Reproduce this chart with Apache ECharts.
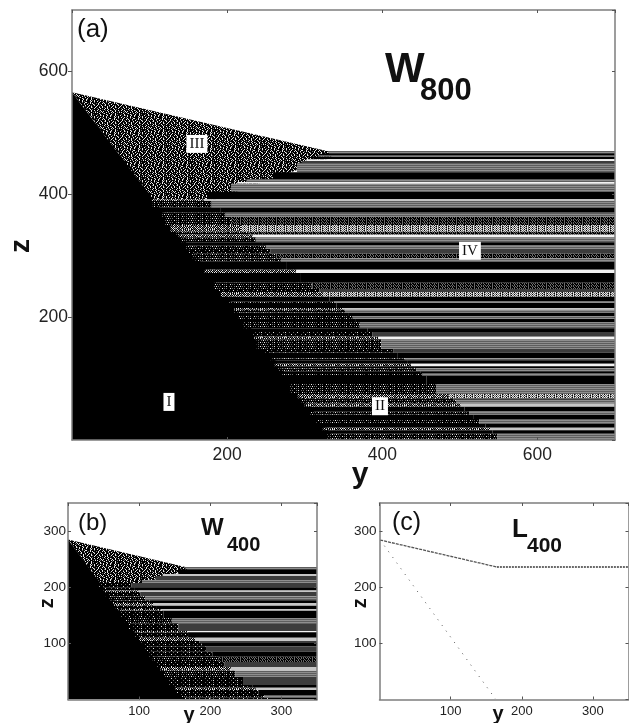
<!DOCTYPE html>
<html><head><meta charset="utf-8">
<style>html,body{margin:0;padding:0;background:#fff}#c{width:629px;height:723px}</style>
<script src="https://cdn.jsdelivr.net/npm/echarts@6/dist/echarts.min.js"></script>
</head><body><div id="c"></div>
<script>
// Panel (a): stripe rows. top z, tone, y-value start of speckle, start of clean stripes
const bandTopA=[470.5,467,464,461,457,454,451,436,425,420,417,404,392,389,378,370,363,350,339,334,330,322,317,311,303,296,290,277,272,256,246,241,233,226,223,215,212,207,202,197,192,182,176,168,164,148,142,133,130,124,120,117,112,109,104,91,75,68,65,59,54,47,41,34,26,20,16,10];
const bandToneA=['g','k','g','k','w','d','g','k','g','w','g','k','l','g','k','g','s','t','s','w','g','k','g','d','s','g','k','w','k','s','d','t','k','g','k','l','g','k','g','k','g','k','d','w','g','d','k','g','k','w','k','g','k','g','k','g','t','d','g','l','k','g','k','g','k','l','k','g'];
const speckleStartA=[330,323,317,311,302,296,290,259,225,213,205,174,103,104,111,116,120,127,134,137,139,144,147,151,155,159,163,171,174,183,189,192,197,201,203,208,209,212,215,218,221,227,231,235,238,247,251,256,258,261,264,266,269,270,273,281,291,295,296,300,303,307,311,315,320,323,326,329];
const stripeStartA=[330,323,317,311,302,296,290,259,225,213,205,174,170,180,191,198,205,218,228,233,237,245,250,256,263,270,276,289,294,309,319,324,332,338,341,349,352,357,362,366,371,381,387,395,399,414,420,429,432,437,441,444,449,452,457,470,485,492,495,501,506,512,518,525,533,539,542,548];
const regionOneA=[[0,566],[0,0],[340,0]];
const regionThreeA=[[0,566],[330,470],[335,460],[185,392],[103,392]];
// Panel (b)
const bandTopB=[236,232,223.5,220,213,207.5,200,194,191.5,184,177,172,167,161,158,145,136,122,120,110,104,100.6,95,85,76,67,58,51,40,26,21,17,8,3];
const bandToneB=['g','k','l','d','g','d','k','l','d','g','k','l','k','l','k','g','d','w','k','l','d','k','d','k','s','d','l','g','d','k','l','k','g','k'];
const speckleStartB=[165,155,133,123,104,44,48,52,53,57,61,64,67,71,72,80,85,93,94,100,103,105,108,114,119,125,130,134,140,148,151,153,158,161];
const stripeStartB=[165,155,133,123,104,89,94,99,102,109,115,120,125,131,134,146,155,168,170,179,185,188,194,203,212,220,229,235,246,259,264,268,276,281];
const regionOneB=[[0,285],[0,0],[166,0]];
const regionThreeB=[[0,285],[165,236],[168,230],[105,207],[44,207]];
// Panel (c)
const slopeLineC=[[1,284],[165,236]];
const plateauLineC=[[165,236],[350,236]];
const lowerLineC=[[1,284],[163,1]];
// Tick labels
const ticksA=[200,400,600];
const ticksB=[100,200,300];
// Region labels in panel (a): y, z, text
const regionLabels=[[161,482,'III'],[513,308,'IV'],[397,55,'II'],[125,62,'I']];

const toneFill={k:'#000',d:'#3c3c3c',l:'#c6c6c6',w:'#f2f2f2'};
const TILE_III=[
"#.##+#.###.#+##.#.###+#.",
"###.###+.####.##+##.####",
"#+##.#####.+###.###.#+##",
".###.+#.###.##.+###.####",
"##+####.##.###.###.#+#.#",
"#.##.#+###.#+#####+.##.#",
"###.###.##+##..###.###+#",
"+#.###.#.###.###+#.#.###",
"##.#+####.##+##.#####.+#",
"#.###.##+.###.###.#+##.#",
".##+##.####.#+##.##.####",
"###.##.#+##.###.###.+##.",
"#+##.####.#.##+##.####.#",
"##.###+#.###.#####.#+###",
"#.##.####+#.##.+###.##.#",
"###+#.#.####.###.##.###+"];
const TILE_SPARSE=["#+###+###.#####+###+#.##","########################","###.###+#####+###.###+##","########################"];
const TILE_MEDIUM=["#+#+##.#+#+###.#+#+##+#.","########################",".#+#+###+#.##+#+##+#.#+#","########################"];
const TILE_DENSE=[".#+#.#.+.#+#.#+#.#+#.#.#","#+#+#.#+#.#+#+.#+#.#.+.#",".#.#+#.#+#.#+#.#.#+#.#+#","#+#.#.#+#.#+#.#+#.#.#+#."];
const TILE_GRAIN_DARK=["#+#+##+#+#+##+#+#+","+#+#+#+##+#+#+#+##","##+###+###+#+###+#"];
const TILE_GRAIN_LIGHT=[".+.+#.+.+.#.+.+.#+","+.#.+.+#.+.+.+#.+."];
const TILE_STRIPE_GRAY=["=","-"];

function tile(rows){
  const w=rows[0].length,h=rows.length,cv=document.createElement('canvas');
  cv.width=w;cv.height=h;const g=cv.getContext('2d');
  const col={'#':'#000','+':'#6a6a6a','.':'#e8e8e8','=':'#8e8e8e','-':'#5e5e5e'};
  rows.forEach((r,j)=>[...r].forEach((c,i)=>{g.fillStyle=col[c];g.fillRect(i,j,1,1);}));
  return {image:cv,repeat:'repeat'};
}
const P={iii:tile(TILE_III),sparse:tile(TILE_SPARSE),medium:tile(TILE_MEDIUM),dense:tile(TILE_DENSE),gd:tile(TILE_GRAIN_DARK),gl:tile(TILE_GRAIN_LIGHT),gs:tile(TILE_STRIPE_GRAY)};
const stripeFill=t=>t==='s'?P.gd:t==='t'?P.gl:t==='g'?P.gs:toneFill[t];
const speckleFill=(t,blackFill)=>t==='k'?blackFill:t==='d'?P.sparse:(t==='g'||t==='s')?P.medium:P.dense;

function polySeries(points,fill,ax,z){
  return {type:'custom',xAxisIndex:ax,yAxisIndex:ax,silent:true,z:z,clip:true,data:[0],
    encode:{x:[],y:[]},
    renderItem:(p,api)=>({type:'polygon',shape:{points:points.map(q=>api.coord(q))},style:{fill:fill}})};
}
function bandSeries(tops,tones,s1,s2,xMax,ax,blackFill){
  const data=tops.map((t,i)=>[t,i+1<tops.length?tops[i+1]:0,tones[i],s1[i],s2[i]]);
  return {type:'custom',xAxisIndex:ax,yAxisIndex:ax,silent:true,z:3,clip:true,data:data,
    dimensions:['top','bottom','tone','speckle','stripe'],encode:{x:3,y:0},
    renderItem:(p,api)=>{
      const d=data[p.dataIndex];
      const a=api.coord([d[3],d[0]]),b=api.coord([d[4],d[1]]),c=api.coord([xMax,d[1]]);
      const kids=[];
      if(d[4]>d[3]) kids.push({type:'rect',shape:{x:a[0],y:a[1],width:b[0]-a[0],height:b[1]-a[1]},style:{fill:speckleFill(d[2],blackFill)}});
      kids.push({type:'rect',shape:{x:b[0],y:a[1],width:c[0]-b[0],height:b[1]-a[1]},style:{fill:stripeFill(d[2])}});
      return {type:'group',children:kids};
    }};
}
const lineS=(data,ax,color,width,dash)=>({type:'line',xAxisIndex:ax,yAxisIndex:ax,data:data,symbol:'none',silent:true,z:3,
  lineStyle:{color:color,width:width,type:dash}});

const BOX='#7d7d7d',FONT='"Liberation Sans",Arial,sans-serif';
function xPair(max,ticks,interval,fs,margin,name,nameFs,nameGap,pad,gi){
  const common={type:'value',gridIndex:gi,min:0,max:max,interval:interval,z:6,splitLine:{show:false},
    axisLine:{show:true,onZero:false,lineStyle:{color:BOX,width:1.5}},
    axisTick:{show:true,inside:true,length:3,lineStyle:{color:'#555',width:1}}};
  return [Object.assign({},common,{position:'bottom',
    axisLabel:{show:true,fontFamily:FONT,fontSize:fs,color:'#222',margin:margin,showMinLabel:false,showMaxLabel:false,hideOverlap:false,
      formatter:v=>ticks.includes(v)?String(v):''},
    name:name,nameLocation:'middle',nameGap:nameGap,nameMoveOverlap:false,
    nameTextStyle:{fontFamily:FONT,fontWeight:'bold',fontSize:nameFs,color:'#111',padding:pad}}),
    Object.assign({},common,{position:'top',axisLabel:{show:false}})];
}
function yPair(max,ticks,interval,fs,margin,tickOut,name,nameFs,nameGap,pad,gi){
  const common={type:'value',gridIndex:gi,min:0,max:max,interval:interval,z:6,splitLine:{show:false},
    axisLine:{show:true,onZero:false,lineStyle:{color:BOX,width:1.5}},
    axisTick:{show:true,inside:true,length:3,lineStyle:{color:'#555',width:1}}};
  return [Object.assign({},common,{position:'left',
    axisTick:{show:true,inside:!tickOut,length:tickOut?4:3,lineStyle:{color:'#555',width:1}},
    axisLabel:{show:true,fontFamily:FONT,fontSize:fs,color:'#222',margin:margin,showMinLabel:false,showMaxLabel:false,
      formatter:v=>ticks.includes(v)?String(v):''},
    name:name,nameLocation:'middle',nameGap:nameGap,nameMoveOverlap:false,
    nameTextStyle:{fontFamily:FONT,fontWeight:'bold',fontSize:nameFs,color:'#111',padding:pad}}),
    Object.assign({},common,{position:'right',axisLabel:{show:false}})];
}
const txt=(x,y,text,size,weight)=>({type:'text',x:x,y:y,silent:true,z:10,
  style:{text:text,fontFamily:FONT,fontSize:size,fontWeight:weight||'normal',fill:'#111',verticalAlign:'middle'}});

const gridCommon={outerBoundsMode:'none',containLabel:false};
const option={
  animation:false,backgroundColor:'#fff',
  grid:[Object.assign({left:72,top:10,width:543,height:430},gridCommon),
        Object.assign({left:68,top:503,width:249,height:196.5},gridCommon),
        Object.assign({left:379.5,top:503,width:249,height:196.5},gridCommon)],
  xAxis:[...xPair(700,ticksA,200,17.5,6,'y',30,20,[0,0,0,33],0),
         ...xPair(350,ticksB,100,13,5,'y',20,6,[0,7,0,0],1),
         ...xPair(350,ticksB,100,13,5,'y',20,5,[0,12,0,0],2)],
  yAxis:[...yPair(700,ticksA,200,17.5,4,true,'z',28,37,[0,42,0,0],0),
         ...yPair(350,ticksB,100,13.5,2,false,'z',20,11,[0,4,0,0],1),
         ...yPair(350,ticksB,100,13.5,3,false,'z',20,9,[0,4,0,0],2)],
  series:[
    polySeries(regionThreeA,P.iii,0,1),polySeries(regionOneA,'#000',0,2),
    bandSeries(bandTopA,bandToneA,speckleStartA,stripeStartA,700,0,'#000'),
    polySeries(regionThreeB,P.iii,2,1),polySeries(regionOneB,'#000',2,2),
    bandSeries(bandTopB,bandToneB,speckleStartB,stripeStartB,350,2,P.sparse),
    lineS(slopeLineC,4,'#555',1.3,[3,1]),lineS(plateauLineC,4,'#6a6a6a',2.2,[2,1]),lineS(lowerLineC,4,'#555',1,[1,6]),
    {type:'custom',xAxisIndex:0,yAxisIndex:0,silent:true,z:8,clip:false,data:regionLabels,encode:{x:0,y:1},
      renderItem:(p,api)=>{const r=regionLabels[p.dataIndex],c=api.coord([r[0],r[1]]);
        return {type:'text',x:c[0],y:c[1],style:{text:r[2],fontFamily:'"Liberation Serif",serif',fontSize:15,fill:'#111',
          align:'center',verticalAlign:'middle',backgroundColor:'#fff',padding:[2,3,1,3]}};}}
  ],
  graphic:[
    txt(77,30,'(a)',26),txt(385,70,'W',42,'bold'),txt(420,91,'800',31,'bold'),
    txt(78,523,'(b)',24),txt(201,528,'W',24,'bold'),txt(227,545,'400',20,'bold'),
    txt(392,523,'(c)',25),txt(512,530,'L',26,'bold'),txt(527,546,'400',21,'bold')
  ]
};
echarts.init(document.getElementById('c'),null,{renderer:'canvas'}).setOption(option);
</script></body></html>
